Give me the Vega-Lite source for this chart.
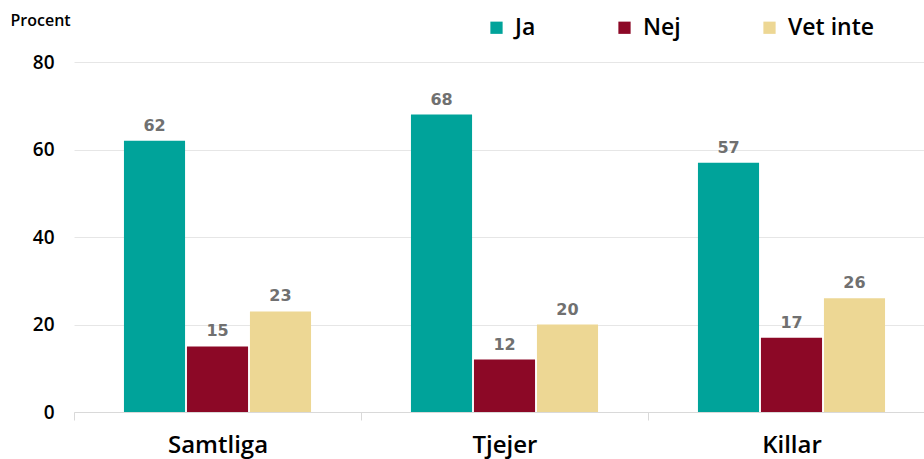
{
  "$schema": "https://vega.github.io/schema/vega-lite/v6.json",
  "autosize": "none",
  "width": 861,
  "height": 350,
  "padding": {"left": 74, "top": 62, "right": 0, "bottom": 47},
  "background": "white",
  "config": {
    "view": {"stroke": null},
    "font": "Open Sans"
  },
  "data": {
    "values": [
      {"grupp": "Samtliga", "svar": "Ja", "procent": 62},
      {"grupp": "Samtliga", "svar": "Nej", "procent": 15},
      {"grupp": "Samtliga", "svar": "Vet inte", "procent": 23},
      {"grupp": "Tjejer", "svar": "Ja", "procent": 68},
      {"grupp": "Tjejer", "svar": "Nej", "procent": 12},
      {"grupp": "Tjejer", "svar": "Vet inte", "procent": 20},
      {"grupp": "Killar", "svar": "Ja", "procent": 57},
      {"grupp": "Killar", "svar": "Nej", "procent": 17},
      {"grupp": "Killar", "svar": "Vet inte", "procent": 26}
    ]
  },
  "encoding": {
    "x": {
      "field": "grupp", "type": "nominal", "sort": ["Samtliga", "Tjejer", "Killar"],
      "scale": {"paddingInner": 0, "paddingOuter": 0},
      "axis": {
        "title": null, "labelAngle": 0, "labelFontSize": 24, "labelFont": "Open Sans",
        "labelFontWeight": 600, "labelColor": "#000", "labelPadding": 13,
        "domainColor": "#d9d9d9", "tickColor": "#d9d9d9", "tickBand": "extent", "tickSize": 8
      }
    },
    "xOffset": {"field": "svar", "type": "nominal", "sort": ["Ja", "Nej", "Vet inte"], "scale": {"paddingInner": 0.03, "paddingOuter": 0.793}},
    "y": {
      "field": "procent", "type": "quantitative",
      "scale": {"domain": [0, 80]},
      "axis": {
        "values": [0, 20, 40, 60, 80], "domain": false, "ticks": false,
        "labelFontSize": 19, "labelFontWeight": 600, "labelColor": "#000", "labelPadding": 20,
        "gridColor": "#e6e6e6",
        "title": "Procent", "titleAngle": 0, "titleAlign": "left", "titleBaseline": "alphabetic",
        "titleX": -64, "titleY": -37, "titleFontSize": 16, "titleFontWeight": 600, "titleColor": "#000"
      }
    }
  },
  "layer": [
    {
      "mark": {"type": "bar"},
      "encoding": {
        "color": {
          "field": "svar", "type": "nominal", "sort": ["Ja", "Nej", "Vet inte"],
          "scale": {"domain": ["Ja", "Nej", "Vet inte"], "range": ["#00A39A", "#8C0826", "#EDD794"]},
          "legend": {
            "title": null, "orient": "none", "direction": "horizontal",
            "legendX": 411, "legendY": -46,
            "symbolType": "square", "symbolSize": 150, "symbolStrokeWidth": 0,
            "labelFontSize": 23, "labelFontWeight": 600, "labelColor": "#000",
            "labelOffset": 7, "columnPadding": 77
          }
        }
      }
    },
    {
      "mark": {"type": "text", "dy": -15, "fontSize": 16, "fontWeight": 600, "color": "#707070", "font": "DejaVu Sans"},
      "encoding": {"text": {"field": "procent", "type": "quantitative"}}
    }
  ]
}
